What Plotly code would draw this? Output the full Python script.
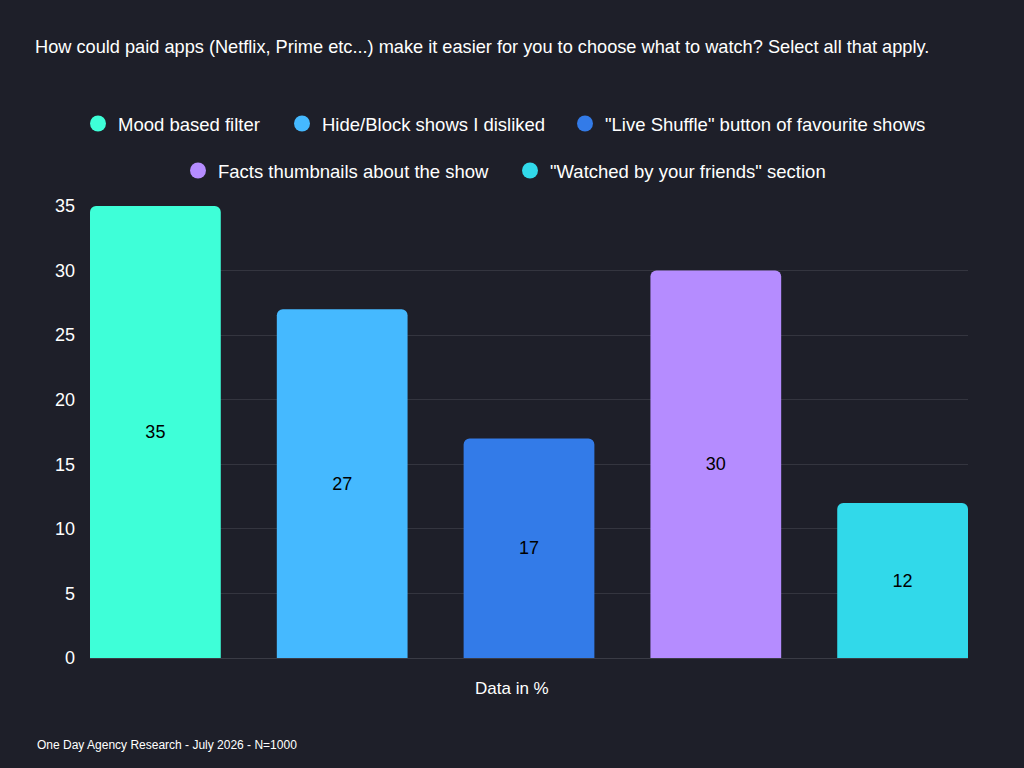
import plotly.graph_objects as go

categories = ["Mood based filter", "Hide/Block shows I disliked", "\"Live Shuffle\" button of favourite shows",
              "Facts thumbnails about the show", "\"Watched by your friends\" section"]
values = [35, 27, 17, 30, 12]
colors = ["#3effd8", "#45b9ff", "#337be8", "#b58cff", "#31d9ea"]
y_ticks = [0, 5, 10, 15, 20, 25, 30, 35]

title_text = "How could paid apps (Netflix, Prime etc...) make it easier for you to choose what to watch? Select all that apply."
footer_text = "One Day Agency Research - July 2026 - N=1000"
x_title = "Data in %"

BG = "#1e1f29"
FONT = "Liberation Sans, Arial, Helvetica, sans-serif"

fig = go.Figure()

legend_names = ["legend", "legend2", "legend3", "legend4", "legend5"]
for i, (cat, val, col) in enumerate(zip(categories, values, colors)):
    fig.add_trace(go.Bar(
        x=[i], y=[val], width=0.7,
        marker=dict(color=col, cornerradius=6, line=dict(width=0)),
        text=[str(val)], textposition="inside", insidetextanchor="middle",
        textfont=dict(color="#000000", size=18, family=FONT),
        showlegend=False, hoverinfo="skip",
    ))
    fig.add_trace(go.Scatter(
        x=[None], y=[None], mode="markers", name=cat,
        marker=dict(color=col, size=16, symbol="circle"),
        legend=legend_names[i], showlegend=True,
    ))

# legend positions (layout only): symbol center px, row y px
leg_pos = [(98, 124), (302, 124), (585, 124), (198, 171), (530, 171)]
layout_legends = {}
for name, (cx, cy) in zip(legend_names, leg_pos):
    layout_legends[name] = dict(
        x=(cx - 20) / 1024, xref="container", xanchor="left",
        y=1 - cy / 768, yref="container", yanchor="middle",
        bgcolor="rgba(0,0,0,0)", borderwidth=0,
        font=dict(color="#ffffff", size=18.5, family=FONT),
        orientation="h",
    )

T, B, L, R = 206, 110, 90, 56

fig.update_layout(
    width=1024, height=768,
    paper_bgcolor=BG, plot_bgcolor=BG,
    margin=dict(l=L, r=R, t=T, b=B, autoexpand=False),
    font=dict(family=FONT, color="#ffffff"),
    title=dict(text=title_text, x=35 / 1024, xref="container", xanchor="left",
               y=1 - 47 / 768, yref="container", yanchor="middle",
               font=dict(size=18.2, color="#ffffff", family=FONT)),
    bargap=0.3,
    **layout_legends,
)

fig.update_xaxes(range=[-0.35, len(categories) - 0.65], showticklabels=False, showgrid=False,
                 zeroline=False, showline=False, fixedrange=True)
fig.update_yaxes(range=[0, 35], tickvals=y_ticks, ticktext=[str(t) for t in y_ticks],
                 showgrid=True, gridcolor="#34353f", gridwidth=1, zeroline=True,
                 zerolinecolor="#3a3b45", zerolinewidth=1,
                 tickfont=dict(size=18, color="#ffffff", family=FONT),
                 ticklabelstandoff=14, showline=False, fixedrange=True)

plot_w = 1024 - L - R
plot_h = 768 - T - B
bottom_px = 768 - B
fig.add_annotation(text=x_title, x=(512 - L) / plot_w, xref="paper", y=(bottom_px - 688) / plot_h, yref="paper",
                   showarrow=False, font=dict(size=17, color="#ffffff", family=FONT),
                   xanchor="center", yanchor="middle")
fig.add_annotation(text=footer_text, x=(35 - L) / plot_w, xref="paper", y=(bottom_px - 745) / plot_h, yref="paper",
                   showarrow=False, font=dict(size=12, color="#ffffff", family=FONT),
                   xanchor="left", yanchor="middle")

fig.write_html("out.html")
